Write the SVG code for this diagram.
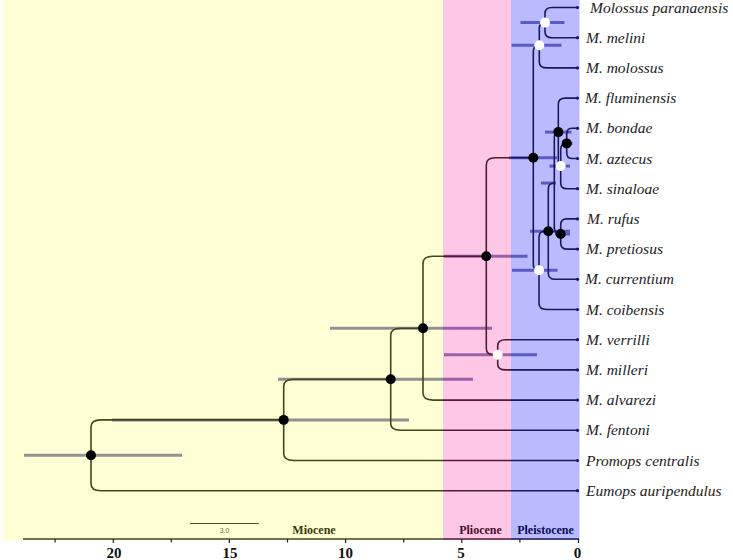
<svg xmlns="http://www.w3.org/2000/svg" width="733" height="560" viewBox="0 0 733 560">
<style>
.bar{stroke:#7d7db0;stroke-width:3;fill:none}
.br{stroke:#222;stroke-width:1.6;fill:none}
.tip{fill:#222}
.ep{font-family:"Liberation Serif",serif;font-weight:bold;font-size:12px;fill:#111;text-anchor:middle}
.lab{font-family:"Liberation Serif",serif;font-style:italic;font-size:15.5px;fill:#222}
.tk{font-family:"Liberation Serif",serif;font-weight:bold;font-size:15px;fill:#111;text-anchor:middle}
.bk{fill:#000}
.wh{fill:#fff}
</style>
<rect x="0" y="0" width="733" height="560" fill="#fff"/>
<g id="hpd">
<line class="bar" x1="24" y1="455.3" x2="182" y2="455.3"/>
<line class="bar" x1="112" y1="419.9" x2="409" y2="419.9"/>
<line class="bar" x1="278" y1="379.25" x2="473" y2="379.25"/>
<line class="bar" x1="330" y1="328.2" x2="492" y2="328.2"/>
<line class="bar" x1="444" y1="256.3" x2="527.5" y2="256.3"/>
<line class="bar" x1="444" y1="354.8" x2="537" y2="354.8"/>
<line class="bar" x1="509" y1="157.8" x2="557" y2="157.8"/>
<line class="bar" x1="511.5" y1="45.25" x2="561.5" y2="45.25"/>
<line class="bar" x1="520.5" y1="22.6" x2="564.5" y2="22.6"/>
<line class="bar" x1="512" y1="270.3" x2="557.5" y2="270.3"/>
<line class="bar" x1="530" y1="231.2" x2="570" y2="231.2"/>
<line class="bar" x1="541" y1="183.05" x2="556" y2="183.05"/>
<line class="bar" x1="545" y1="132.1" x2="571.5" y2="132.1"/>
<line class="bar" x1="549.5" y1="166.05" x2="570" y2="166.05"/>
<line class="bar" x1="562.5" y1="143.4" x2="572.5" y2="143.4"/>
<line class="bar" x1="555" y1="234" x2="570" y2="234"/>
</g>
<g id="connectors">
<path class="br" d="M91,455.3 V426.9 Q91,419.9 101,419.9 H283.7"/>
<path class="br" d="M91,455.3 V483.7 Q91,490.7 101,490.7 H577"/>
<path class="br" d="M283.7,419.9 V386.25 Q283.7,379.25 293.7,379.25 H390.7"/>
<path class="br" d="M283.7,419.9 V453.5 Q283.7,460.5 293.7,460.5 H577"/>
<path class="br" d="M390.7,379.25 V335.2 Q390.7,328.2 400.7,328.2 H423"/>
<path class="br" d="M390.7,379.25 V423.3 Q390.7,430.3 400.7,430.3 H577"/>
<path class="br" d="M423,328.2 V263.3 Q423,256.3 433,256.3 H486.3"/>
<path class="br" d="M423,328.2 V393.1 Q423,400.1 433,400.1 H577"/>
<path class="br" d="M486.3,256.3 V164.8 Q486.3,157.8 495.3,157.8 H533.3"/>
<path class="br" d="M486.3,256.3 V348.8 Q486.3,354.8 494.3,354.8 H497.7"/>
<path class="br" d="M497.7,354.8 V345.7 Q497.7,339.7 505.7,339.7 H577"/>
<path class="br" d="M497.7,354.8 V363.9 Q497.7,369.9 505.7,369.9 H577"/>
<path class="br" d="M533.3,157.8 V51.25 Q533.3,45.25 539.3,45.25"/>
<path class="br" d="M533.3,157.8 V264.3 Q533.3,270.3 539,270.3"/>
<path class="br" d="M539.3,45.25 V28.6 Q539.3,22.6 545,22.6"/>
<path class="br" d="M539.3,45.25 V61.9 Q539.3,67.9 547.3,67.9 H577"/>
<path class="br" d="M545,22.6 V13.5 Q545,7.5 552,7.5 H577"/>
<path class="br" d="M545,22.6 V31.7 Q545,37.7 552,37.7 H577"/>
<path class="br" d="M539,270.3 V237.2 Q539,231.2 545,231.2 H548.3"/>
<path class="br" d="M539,270.3 V303.5 Q539,309.5 547,309.5 H577"/>
<path class="br" d="M548.3,231.2 V189.05 Q548.3,183.05 554.3,183.05"/>
<path class="br" d="M548.3,231.2 V273.3 Q548.3,279.3 555.3,279.3 H577"/>
<path class="br" d="M554.3,183.05 V138.1 Q554.3,132.1 558.3,132.1"/>
<path class="br" d="M554.3,183.05 V228 Q554.3,234 560.7,234"/>
<path class="br" d="M558.3,132.1 V104.1 Q558.3,98.1 565.3,98.1 H577"/>
<path class="br" d="M558.3,132.1 V160.05 Q558.3,166.05 560.7,166.05"/>
<path class="br" d="M560.7,166.05 V149.4 Q560.7,143.4 566.7,143.4"/>
<path class="br" d="M560.7,166.05 V182.7 Q560.7,188.7 566.7,188.7 H577"/>
<path class="br" d="M566.7,143.4 V134.3 Q566.7,128.3 571.7,128.3 H577"/>
<path class="br" d="M566.7,143.4 V152.5 Q566.7,158.5 571.7,158.5 H577"/>
<path class="br" d="M560.7,234 V224.9 Q560.7,218.9 566.7,218.9 H577"/>
<path class="br" d="M560.7,234 V243.1 Q560.7,249.1 566.7,249.1 H577"/>
</g>
<g id="tipdots">
<circle class="tip" cx="577.5" cy="7.5" r="1.6"/>
<circle class="tip" cx="577.5" cy="37.7" r="1.6"/>
<circle class="tip" cx="577.5" cy="67.9" r="1.6"/>
<circle class="tip" cx="577.5" cy="98.1" r="1.6"/>
<circle class="tip" cx="577.5" cy="128.3" r="1.6"/>
<circle class="tip" cx="577.5" cy="158.5" r="1.6"/>
<circle class="tip" cx="577.5" cy="188.7" r="1.6"/>
<circle class="tip" cx="577.5" cy="218.9" r="1.6"/>
<circle class="tip" cx="577.5" cy="249.1" r="1.6"/>
<circle class="tip" cx="577.5" cy="279.3" r="1.6"/>
<circle class="tip" cx="577.5" cy="309.5" r="1.6"/>
<circle class="tip" cx="577.5" cy="339.7" r="1.6"/>
<circle class="tip" cx="577.5" cy="369.9" r="1.6"/>
<circle class="tip" cx="577.5" cy="400.1" r="1.6"/>
<circle class="tip" cx="577.5" cy="430.3" r="1.6"/>
<circle class="tip" cx="577.5" cy="460.5" r="1.6"/>
<circle class="tip" cx="577.5" cy="490.7" r="1.6"/>
</g>
<g id="epochs-text">
<text class="ep" x="314" y="534">Miocene</text>
<text class="ep" x="480.5" y="534">Pliocene</text>
<text class="ep" x="545.5" y="534">Pleistocene</text>
</g>
<g id="scalebar">
<line x1="190" y1="523.5" x2="259" y2="523.5" stroke="#333" stroke-width="1"/>
<text x="224.5" y="533" font-family="Liberation Sans, sans-serif" font-size="7" fill="#555" text-anchor="middle">3.0</text>
</g>
<line x1="23" y1="539" x2="579" y2="539" stroke="#222" stroke-width="1.6"/>
<g id="epoch-overlay">
<rect x="3" y="0" width="440" height="540" fill="#ffff00" fill-opacity="0.16"/>
<rect x="443" y="0" width="68" height="540" fill="#ff008c" fill-opacity="0.22"/>
<rect x="511" y="0" width="68.5" height="540" fill="#0000ff" fill-opacity="0.27"/>
</g>
<g id="axis">
<g stroke="#222" stroke-width="1.2">
<line x1="55.1" y1="539" x2="55.1" y2="542.5"/>
<line x1="113.3" y1="539" x2="113.3" y2="543"/>
<line x1="171.3" y1="539" x2="171.3" y2="542.5"/>
<line x1="229.4" y1="539" x2="229.4" y2="543"/>
<line x1="287.5" y1="539" x2="287.5" y2="542.5"/>
<line x1="345.6" y1="539" x2="345.6" y2="543"/>
<line x1="403.7" y1="539" x2="403.7" y2="542.5"/>
<line x1="461.8" y1="539" x2="461.8" y2="543"/>
<line x1="519.9" y1="539" x2="519.9" y2="542.5"/>
<line x1="578.5" y1="539" x2="578.5" y2="543"/>
</g>
<text class="tk" x="114" y="558">20</text>
<text class="tk" x="230" y="558">15</text>
<text class="tk" x="345.6" y="558">10</text>
<text class="tk" x="461" y="558">5</text>
<text class="tk" x="577.5" y="558">0</text>
</g>
<g id="n-root"><circle class="bk" cx="91" cy="455.3" r="5"/></g>
<g id="n1"><circle class="bk" cx="283.7" cy="419.9" r="5"/></g>
<g id="n2"><circle class="bk" cx="390.7" cy="379.25" r="5"/></g>
<g id="n3"><circle class="bk" cx="423" cy="328.2" r="5"/></g>
<g id="n4"><circle class="bk" cx="486.3" cy="256.3" r="5"/></g>
<g id="n5"><circle class="wh" cx="497.7" cy="354.8" r="5"/></g>
<g id="n6"><circle class="bk" cx="533.3" cy="157.8" r="5"/></g>
<g id="n7"><circle class="wh" cx="539.3" cy="45.25" r="5"/></g>
<g id="n8"><circle class="wh" cx="545" cy="22.6" r="5"/></g>
<g id="n9"><circle class="wh" cx="539" cy="270.3" r="5"/></g>
<g id="n10"><circle class="bk" cx="548.3" cy="231.2" r="5"/></g>
<g id="n12"><circle class="bk" cx="558.3" cy="132.1" r="5"/></g>
<g id="n13"><circle class="wh" cx="560.7" cy="166.05" r="5"/></g>
<g id="n14"><circle class="bk" cx="566.7" cy="143.4" r="5"/></g>
<g id="n15"><circle class="bk" cx="560.7" cy="234" r="5"/></g>
<g id="tip-labels">
<text class="lab" x="590" y="12.5">Molossus paranaensis</text>
<text class="lab" x="586" y="42.7">M. melini</text>
<text class="lab" x="586" y="72.9">M. molossus</text>
<text class="lab" x="585" y="103.1">M. fluminensis</text>
<text class="lab" x="586" y="133.3">M. bondae</text>
<text class="lab" x="586" y="163.5">M. aztecus</text>
<text class="lab" x="586" y="193.7">M. sinaloae</text>
<text class="lab" x="587" y="223.9">M. rufus</text>
<text class="lab" x="586" y="254.1">M. pretiosus</text>
<text class="lab" x="585" y="284.3">M. currentium</text>
<text class="lab" x="586" y="314.5">M. coibensis</text>
<text class="lab" x="586" y="344.7">M. verrilli</text>
<text class="lab" x="586" y="374.9">M. milleri</text>
<text class="lab" x="586" y="405.1">M. alvarezi</text>
<text class="lab" x="586" y="435.3">M. fentoni</text>
<text class="lab" x="586" y="465.5">Promops centralis</text>
<text class="lab" x="586" y="495.7">Eumops auripendulus</text>
</g>
</svg>
